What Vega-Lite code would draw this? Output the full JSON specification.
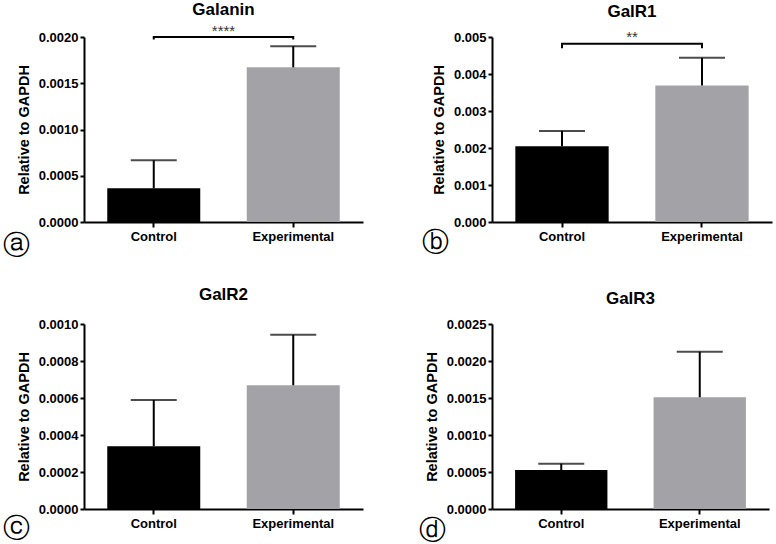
{
  "$schema": "https://vega.github.io/schema/vega-lite/v6.json",
  "padding": {"left": 2, "top": 1, "right": 2, "bottom": 0},
  "background": "white",
  "columns": 2,
  "bounds": "flush",
  "spacing": {"row": 102, "column": 129},
  "concat": [
    {
      "width": 279, "height": 185,
      "title": {"text": "Galanin", "offset": 5},
      "data": {"values": [
        {"group": "Control", "mean": 0.000364, "upper": 0.000667},
        {"group": "Experimental", "mean": 0.001672, "upper": 0.0019}
      ]},
      "layer": [
        {
          "mark": {"type": "bar"},
          "encoding": {
            "x": {"field": "group", "type": "nominal", "scale": {"paddingInner": 0.3333, "paddingOuter": 0.1667},
                  "axis": {"title": "ⓐ", "titleX": -68, "titleY": 23, "titleAlign": "center", "titleBaseline": "middle", "titleFont": "DejaVu Sans", "titleFontSize": 27, "titleFontWeight": "normal"}},
            "y": {"field": "mean", "type": "quantitative", "scale": {"domain": [0, 0.002], "nice": false},
                  "axis": {"title": "Relative to GAPDH", "values": [0, 0.0005, 0.001, 0.0015, 0.002], "format": ".4f"}},
            "color": {"field": "group", "type": "nominal", "scale": {"domain": ["Control", "Experimental"], "range": ["#000000", "#a3a2a7"]}, "legend": null}
          }
        },
        {
          "mark": {"type": "rule", "color": "#000", "strokeWidth": 2},
          "encoding": {"x": {"field": "group", "type": "nominal"}, "y": {"field": "mean", "type": "quantitative", "axis": {"title": "Relative to GAPDH", "values": [0, 0.0005, 0.001, 0.0015, 0.002], "format": ".4f"}}, "y2": {"field": "upper"}}
        },
        {
          "mark": {"type": "tick", "color": "#000", "thickness": 2, "size": 46},
          "encoding": {"x": {"field": "group", "type": "nominal"}, "y": {"field": "upper", "type": "quantitative", "axis": {"title": "Relative to GAPDH", "values": [0, 0.0005, 0.001, 0.0015, 0.002], "format": ".4f"}}}
        },
        {
          "data": {"values": [
            {"group": "Control", "y": 0.001973, "i": 0},
            {"group": "Control", "y": 0.002, "i": 1},
            {"group": "Experimental", "y": 0.002, "i": 2},
            {"group": "Experimental", "y": 0.001973, "i": 3}
          ]},
          "mark": {"type": "line", "color": "#000", "strokeWidth": 2, "clip": false},
          "encoding": {"x": {"field": "group", "type": "nominal"}, "y": {"field": "y", "type": "quantitative", "axis": {"title": "Relative to GAPDH", "values": [0, 0.0005, 0.001, 0.0015, 0.002], "format": ".4f"}}, "order": {"field": "i"}}
        },
        {
          "data": {"values": [{"group": "Control", "y": 0.002008, "label": "****"}]},
          "mark": {"type": "text", "fontSize": 15, "color": "#333", "baseline": "alphabetic", "align": "center"},
          "encoding": {"x": {"field": "group", "type": "nominal", "bandPosition": 1.25}, "y": {"field": "y", "type": "quantitative", "axis": {"title": "Relative to GAPDH", "values": [0, 0.0005, 0.001, 0.0015, 0.002], "format": ".4f"}}, "text": {"field": "label"}}
        }
      ]
    },
    {
      "width": 280, "height": 185,
      "title": {"text": "GalR1", "offset": 9},
      "data": {"values": [
        {"group": "Control", "mean": 0.00205, "upper": 0.00246},
        {"group": "Experimental", "mean": 0.00369, "upper": 0.00444}
      ]},
      "layer": [
        {
          "mark": {"type": "bar"},
          "encoding": {
            "x": {"field": "group", "type": "nominal", "scale": {"paddingInner": 0.3333, "paddingOuter": 0.1667},
                  "axis": {"title": "ⓑ", "titleX": -57, "titleY": 20, "titleAlign": "center", "titleBaseline": "middle", "titleFont": "DejaVu Sans", "titleFontSize": 27, "titleFontWeight": "normal"}},
            "y": {"field": "mean", "type": "quantitative", "scale": {"domain": [0, 0.005], "nice": false},
                  "axis": {"title": "Relative to GAPDH", "values": [0, 0.001, 0.002, 0.003, 0.004, 0.005], "format": ".3f"}},
            "color": {"field": "group", "type": "nominal", "scale": {"domain": ["Control", "Experimental"], "range": ["#000000", "#a3a2a7"]}, "legend": null}
          }
        },
        {
          "mark": {"type": "rule", "color": "#000", "strokeWidth": 2},
          "encoding": {"x": {"field": "group", "type": "nominal"}, "y": {"field": "mean", "type": "quantitative", "axis": {"title": "Relative to GAPDH", "values": [0, 0.001, 0.002, 0.003, 0.004, 0.005], "format": ".3f"}}, "y2": {"field": "upper"}}
        },
        {
          "mark": {"type": "tick", "color": "#000", "thickness": 2, "size": 46},
          "encoding": {"x": {"field": "group", "type": "nominal"}, "y": {"field": "upper", "type": "quantitative", "axis": {"title": "Relative to GAPDH", "values": [0, 0.001, 0.002, 0.003, 0.004, 0.005], "format": ".3f"}}}
        },
        {
          "data": {"values": [
            {"group": "Control", "y": 0.004695, "i": 0},
            {"group": "Control", "y": 0.00482, "i": 1},
            {"group": "Experimental", "y": 0.00482, "i": 2},
            {"group": "Experimental", "y": 0.004695, "i": 3}
          ]},
          "mark": {"type": "line", "color": "#000", "strokeWidth": 2, "clip": false},
          "encoding": {"x": {"field": "group", "type": "nominal"}, "y": {"field": "y", "type": "quantitative", "axis": {"title": "Relative to GAPDH", "values": [0, 0.001, 0.002, 0.003, 0.004, 0.005], "format": ".3f"}}, "order": {"field": "i"}}
        },
        {
          "data": {"values": [{"group": "Control", "y": 0.00487, "label": "**"}]},
          "mark": {"type": "text", "fontSize": 15, "color": "#333", "baseline": "alphabetic", "align": "center"},
          "encoding": {"x": {"field": "group", "type": "nominal", "bandPosition": 1.25}, "y": {"field": "y", "type": "quantitative", "axis": {"title": "Relative to GAPDH", "values": [0, 0.001, 0.002, 0.003, 0.004, 0.005], "format": ".3f"}}, "text": {"field": "label"}}
        }
      ]
    },
    {
      "width": 279, "height": 185,
      "title": {"text": "GalR2", "offset": 14},
      "data": {"values": [
        {"group": "Control", "mean": 0.000339, "upper": 0.000589},
        {"group": "Experimental", "mean": 0.000669, "upper": 0.000942}
      ]},
      "layer": [
        {
          "mark": {"type": "bar"},
          "encoding": {
            "x": {"field": "group", "type": "nominal", "scale": {"paddingInner": 0.3333, "paddingOuter": 0.1667},
                  "axis": {"title": "ⓒ", "titleX": -68, "titleY": 19, "titleAlign": "center", "titleBaseline": "middle", "titleFont": "DejaVu Sans", "titleFontSize": 27, "titleFontWeight": "normal"}},
            "y": {"field": "mean", "type": "quantitative", "scale": {"domain": [0, 0.001], "nice": false},
                  "axis": {"title": "Relative to GAPDH", "values": [0, 0.0002, 0.0004, 0.0006, 0.0008, 0.001], "format": ".4f"}},
            "color": {"field": "group", "type": "nominal", "scale": {"domain": ["Control", "Experimental"], "range": ["#000000", "#a3a2a7"]}, "legend": null}
          }
        },
        {
          "mark": {"type": "rule", "color": "#000", "strokeWidth": 2},
          "encoding": {"x": {"field": "group", "type": "nominal"}, "y": {"field": "mean", "type": "quantitative", "axis": {"title": "Relative to GAPDH", "values": [0, 0.0002, 0.0004, 0.0006, 0.0008, 0.001], "format": ".4f"}}, "y2": {"field": "upper"}}
        },
        {
          "mark": {"type": "tick", "color": "#000", "thickness": 2, "size": 46},
          "encoding": {"x": {"field": "group", "type": "nominal"}, "y": {"field": "upper", "type": "quantitative", "axis": {"title": "Relative to GAPDH", "values": [0, 0.0002, 0.0004, 0.0006, 0.0008, 0.001], "format": ".4f"}}}
        }
      ]
    },
    {
      "width": 277, "height": 185,
      "title": {"text": "GalR3", "offset": 10},
      "data": {"values": [
        {"group": "Control", "mean": 0.000527, "upper": 0.000612},
        {"group": "Experimental", "mean": 0.00151, "upper": 0.002126}
      ]},
      "layer": [
        {
          "mark": {"type": "bar"},
          "encoding": {
            "x": {"field": "group", "type": "nominal", "scale": {"paddingInner": 0.3333, "paddingOuter": 0.1667},
                  "axis": {"title": "ⓓ", "titleX": -60, "titleY": 21, "titleAlign": "center", "titleBaseline": "middle", "titleFont": "DejaVu Sans", "titleFontSize": 27, "titleFontWeight": "normal"}},
            "y": {"field": "mean", "type": "quantitative", "scale": {"domain": [0, 0.0025], "nice": false},
                  "axis": {"title": "Relative to GAPDH", "values": [0, 0.0005, 0.001, 0.0015, 0.002, 0.0025], "format": ".4f"}},
            "color": {"field": "group", "type": "nominal", "scale": {"domain": ["Control", "Experimental"], "range": ["#000000", "#a3a2a7"]}, "legend": null}
          }
        },
        {
          "mark": {"type": "rule", "color": "#000", "strokeWidth": 2},
          "encoding": {"x": {"field": "group", "type": "nominal"}, "y": {"field": "mean", "type": "quantitative", "axis": {"title": "Relative to GAPDH", "values": [0, 0.0005, 0.001, 0.0015, 0.002, 0.0025], "format": ".4f"}}, "y2": {"field": "upper"}}
        },
        {
          "mark": {"type": "tick", "color": "#000", "thickness": 2, "size": 46},
          "encoding": {"x": {"field": "group", "type": "nominal"}, "y": {"field": "upper", "type": "quantitative", "axis": {"title": "Relative to GAPDH", "values": [0, 0.0005, 0.001, 0.0015, 0.002, 0.0025], "format": ".4f"}}}
        }
      ]
    }
  ],
  "config": {
    "view": {"stroke": null},
    "font": "Liberation Sans",
    "axis": {"domainColor": "#000", "domainWidth": 2, "tickColor": "#000", "tickWidth": 2, "labelColor": "#000", "labelFont": "Liberation Sans", "labelFontWeight": "bold", "labelFontSize": 13, "titleColor": "#000", "titleFont": "Liberation Sans", "titleFontWeight": "bold", "titleFontSize": 14.5, "grid": false, "labelOverlap": false},
    "axisY": {"tickSize": 4, "labelPadding": 2, "titlePadding": 7},
    "axisX": {"tickSize": 5, "labelPadding": 3, "labelAngle": 0},
    "title": {"font": "Liberation Sans", "fontSize": 17, "fontWeight": "bold", "color": "#000", "baseline": "alphabetic", "frame": "group", "anchor": "middle"}
  }
}
